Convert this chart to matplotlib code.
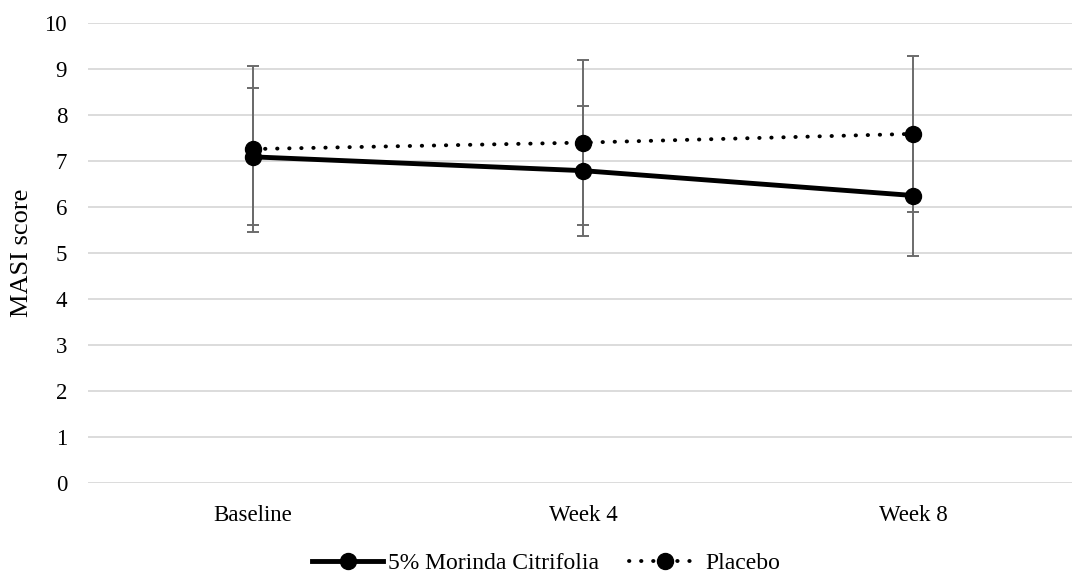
import matplotlib.pyplot as plt
import numpy as np

plt.rcParams['font.family'] = ['Liberation Serif', 'DejaVu Serif']

# Dati
categories = ["Baseline", "Week 4", "Week 8"]
morinda_mean = [7.09, 6.79, 6.25]
morinda_sd = [1.49, 1.41, 1.31]
placebo_mean = [7.26, 7.40, 7.59]
placebo_sd = [1.80, 1.79, 1.69]
y_ticks = list(range(0, 11))

fig = plt.figure(figsize=(10.72, 5.74), dpi=100)
ax = fig.add_axes([88 / 1072, 1 - 483 / 574, 990 / 1072, 460 / 574])

x = np.arange(len(categories)) + 0.5

# Barre d'errore (sotto le linee)
err_kw = dict(fmt="none", ecolor="#6b6b6b", elinewidth=1.4, capsize=4.5,
              capthick=1.4, zorder=2)
ax.errorbar(x, morinda_mean, yerr=morinda_sd, **err_kw)
ax.errorbar(x, placebo_mean, yerr=placebo_sd, **err_kw)

# Serie
ax.plot(x, morinda_mean, color="black", linewidth=3.5, marker="o",
        markersize=11.5, label="5% Morinda Citrifolia", zorder=3)
ax.plot(x, placebo_mean, color="black", linewidth=2.8, linestyle=(0, (0.1, 3.0)),
        dash_capstyle="round", marker="o", markersize=11.5, label="Placebo",
        zorder=3)

ax.set_xlim(0, len(categories))
ax.set_ylim(0, 10)
ax.set_yticks(y_ticks)
ax.set_xticks(x)
ax.set_xticklabels(categories)
ax.tick_params(axis="both", length=0, labelsize=16.5)
ax.tick_params(axis="y", pad=15)
ax.tick_params(axis="x", pad=16)

ax.grid(axis="y", color="#d9d9d9", linewidth=1.3)
ax.set_axisbelow(True)
for s in ax.spines.values():
    s.set_visible(False)

ax.set_ylabel("MASI score", fontsize=19, labelpad=8)

fig.legend(loc="center", bbox_to_anchor=(546 / 1072, 1 - 563 / 574), ncol=2,
           frameon=False, fontsize=17, handlelength=3.0, columnspacing=1.3,
           handletextpad=0.2)

fig.savefig("out.png", dpi=100)
